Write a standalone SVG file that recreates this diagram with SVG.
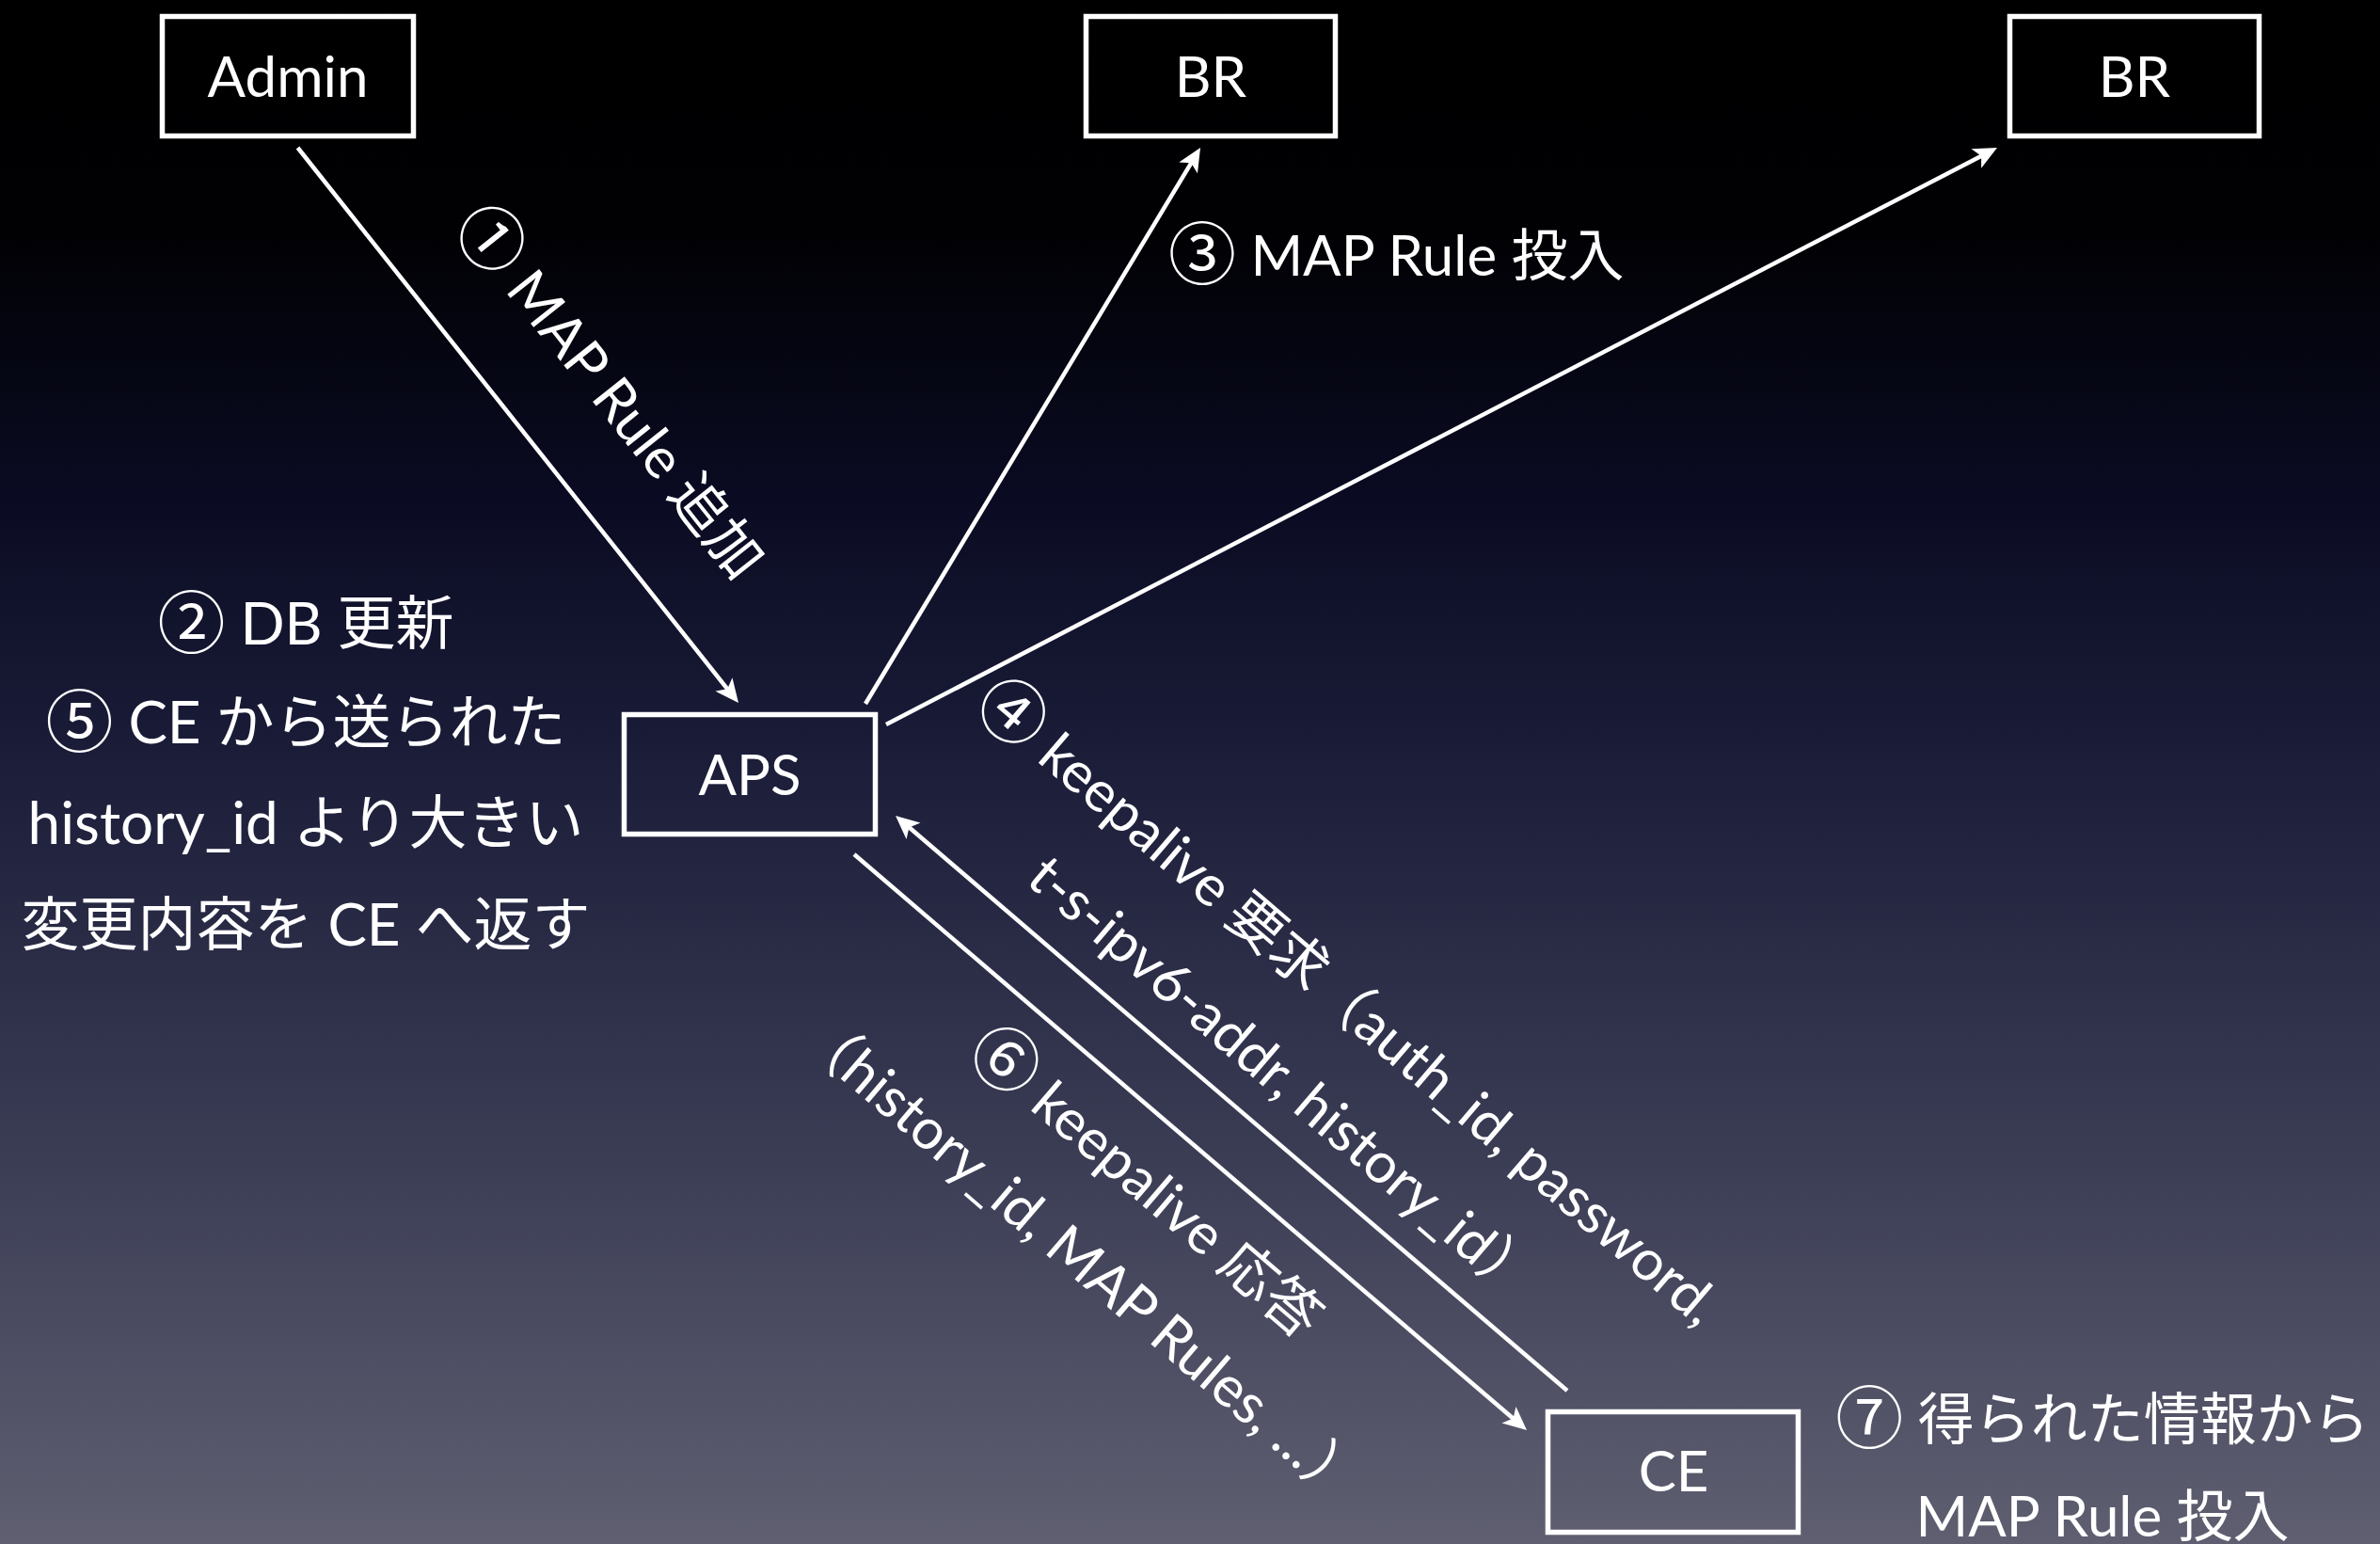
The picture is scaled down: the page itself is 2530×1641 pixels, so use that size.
<svg xmlns="http://www.w3.org/2000/svg" width="2530" height="1641" viewBox="0 0 2530 1641">
  <defs>
    <linearGradient id="bg" x1="0" y1="0" x2="0" y2="1">
      <stop offset="0" stop-color="#000000"/>
      <stop offset="0.15" stop-color="#010104"/>
      <stop offset="0.32" stop-color="#0a0b22"/>
      <stop offset="0.5" stop-color="#1c1e3a"/>
      <stop offset="0.75" stop-color="#3b3d55"/>
      <stop offset="1" stop-color="#5f5f71"/>
    </linearGradient>
    <marker id="arrow" markerUnits="userSpaceOnUse" markerWidth="60" markerHeight="60" viewBox="-30 -30 60 60" refX="0" refY="0" orient="auto">
      <path d="M15,0 L-10,-11.5 L-4,0 L-10,11.5 Z" fill="#ffffff"/>
    </marker>
    <style>
      .box { fill: none; stroke: #ffffff; stroke-width: 5.5; }
      .conn { stroke: #ffffff; stroke-width: 4.5; fill: none; }
      .t { fill: #ffffff; font-family: Lato, "Noto Sans CJK JP", sans-serif; font-size: 60px; }
      .c { text-anchor: middle; }
      .lb { font-size: 62px; }
      .n { font-size: 72px; font-family: "Noto Sans CJK JP", sans-serif; }
    </style>
  </defs>
  <rect x="0" y="0" width="2530" height="1641" fill="url(#bg)"/>

  <g id="connectors">
    <line class="conn" x1="316.5" y1="157" x2="775.7" y2="735.3" marker-end="url(#arrow)"/>
    <line class="conn" x1="920" y1="748" x2="1268.3" y2="169.8" marker-end="url(#arrow)"/>
    <line class="conn" x1="942" y1="770" x2="2109.7" y2="163.9" marker-end="url(#arrow)"/>
    <line class="conn" x1="1666" y1="1478" x2="963.4" y2="876.8" marker-end="url(#arrow)"/>
    <line class="conn" x1="908" y1="908" x2="1611.6" y2="1510.2" marker-end="url(#arrow)"/>
  </g>

  <g id="node-admin">
    <rect class="box" x="172.5" y="17.5" width="267" height="127"/>
    <text class="t c" x="306" y="103">Admin</text>
  </g>
  <g id="node-br1">
    <rect class="box" x="1154.5" y="17.5" width="265" height="127"/>
    <text class="t c" x="1287" y="103">BR</text>
  </g>
  <g id="node-br2">
    <rect class="box" x="2136.5" y="17.5" width="265" height="127"/>
    <text class="t c" x="2269" y="103">BR</text>
  </g>
  <g id="node-aps">
    <rect class="box" x="663.5" y="759.5" width="267" height="127"/>
    <text class="t c" x="797" y="845">APS</text>
  </g>
  <g id="node-ce">
    <rect class="box" x="1645.5" y="1500.5" width="266" height="128"/>
    <text class="t c" x="1779" y="1585">CE</text>
  </g>

  <g id="labels">
    <g transform="translate(572,477.6) rotate(51.55)">
      <text class="t c" x="0" y="-77"><tspan class="n" dy="3">①</tspan><tspan dy="-3"> MAP Rule 追加</tspan></text>
    </g>
    <text class="t" x="1242" y="293"><tspan class="n" dy="3">③</tspan><tspan dy="-3"> MAP Rule 投入</tspan></text>
    <g transform="translate(1327.7,1189.2) rotate(40.56)">
      <text class="t c" x="0" y="-142"><tspan class="n" dy="3">④</tspan><tspan dy="-3"> keepalive 要求（auth_id, password,</tspan></text>
      <text class="t c" x="0" y="-36">t-s-ipv6-addr, history_id）</text>
    </g>
    <g transform="translate(1259.4,1209.4) rotate(40.56)">
      <text class="t c" x="0" y="84"><tspan class="n" dy="3">⑥</tspan><tspan dy="-3"> keepalive 応答</tspan></text>
      <text class="t c" x="0" y="190">（history_id, MAP Rules, ...）</text>
    </g>
    <text class="t c lb" x="325" y="685"><tspan class="n" dy="3">②</tspan><tspan dy="-3"> DB 更新</tspan></text>
    <text class="t c lb" x="325" y="790"><tspan class="n" dy="3">⑤</tspan><tspan dy="-3"> CE から送られた</tspan></text>
    <text class="t c lb" x="325" y="897">history_id より大きい</text>
    <text class="t c lb" x="325" y="1005">変更内容を CE へ返す</text>
    <text class="t c" x="2235" y="1530"><tspan class="n" dy="3">⑦</tspan><tspan dy="-3"> 得られた情報から</tspan></text>
    <text class="t c" x="2235" y="1633">MAP Rule 投入</text>
  </g>
</svg>
